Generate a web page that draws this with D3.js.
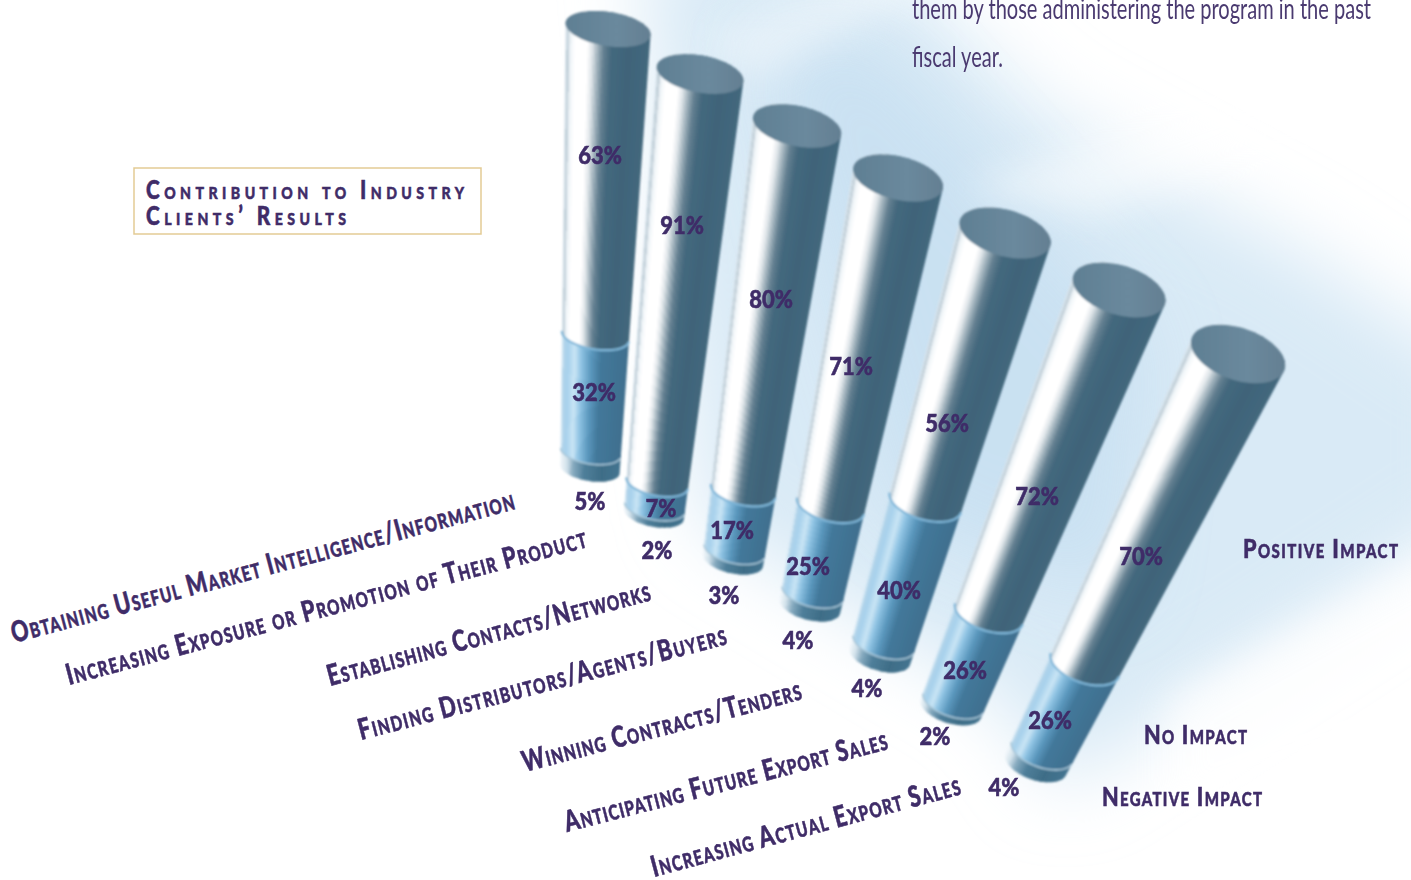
<!DOCTYPE html>
<html><head><meta charset="utf-8">
<script src="https://cdnjs.cloudflare.com/ajax/libs/d3/7.8.5/d3.min.js"></script>
<style>html,body{margin:0;padding:0;background:#fff;overflow:hidden}svg{display:block}
text{font-family:Lato,"Open Sans",sans-serif;fill:#3f2c68}
text.heavy{stroke:#3f2c68;stroke-width:.55px}</style>
</head><body><svg id="c" width="1411" height="880"></svg>
<script>
// ---------- data ----------
const categories=["Obtaining Useful Market Intelligence/Information","Increasing Exposure or Promotion of Their Product","Establishing Contacts/Networks","Finding Distributors/Agents/Buyers","Winning Contracts/Tenders","Anticipating Future Export Sales","Increasing Actual Export Sales"];
const positiveImpact=[63,91,80,71,56,72,70];
const noImpact=[32,7,17,25,40,26,26];
const negativeImpact=[5,2,3,4,4,2,4];
const seriesNames=["Positive Impact","No Impact","Negative Impact"];
const titleLines=["Contribution to Industry","Clients\u2019 Results"];
const bodyLines=["them by those administering the program in the past","fiscal year."];

// ---------- layout (perspective frame; not data) ----------
const idx=d3.range(categories.length);
const topXs=[608,700,797,898,1005,1119,1238], topYs=[29,74,126,178,233,290,354];
const endXs=[590,654,733,810,880,951,1036], endYs=[469,514,560,606,656,708,764];
const topX=d3.scaleLinear(idx,topXs), topY=d3.scaleLinear(idx,topYs),
      endX=d3.scaleLinear(idx,endXs), endY=d3.scaleLinear(idx,endYs);
const radiusTop=d3.scaleLinear([0,6],[43,49]), radiusEnd=d3.scaleLinear([0,6],[30,32]),
      minorTop=d3.scaleLinear([0,6],[17,26]), minorEnd=d3.scaleLinear([0,6],[12,16]),
      tilt=d3.scaleLinear([0,6],[9,19]);
// percent of the cylinder -> fraction along its foreshortened axis
const along=d3.scalePow().exponent(0.78).domain([0,100]).range([0,1]);

const posLabelX=[600,682,771,851,947,1037,1141], posLabelY=[155,225,299,366,423,496,556];
const noLabelX=[594,661,732,808,899,965,1050], noLabelY=[392,508,530,566,590,670,720];
const negLabelX=[590,657,724,798,867,935,1004], negLabelY=[501,550,595,640,688,736,787];
const catStart=[[14,643],[69,685],[330,686],[361,740],[525,772],[567,832],[654,877]];
const catEnd=[[516,509],[588,547],[652,600],[728,644],[803,699],[889,749],[962,794]];

// colour profiles across the cylinder's width
const posProfile=d3.scaleLinear([0,.03,.06,.12,.26,.32,.39,.46,.55,.75,1],["#e4eef5","#b9c9d3","#eef4f8","#ffffff","#ffffff","#dfe5e9","#9db0ba","#637f90","#44687e","#3f6479","#43677d"]);
const noProfile=d3.scaleLinear([0,.04,.1,.2,.3,.45,.6,1],["#d8e9f5","#aed2e9","#a8d2ec","#c9e5f5","#8fc3e3","#5a97bd","#43789a","#3f6f8e"]);
const negProfile=d3.scaleLinear([0,.1,.22,.4,.7,1],["#f1f7fa","#d4e3ec","#86aabf","#4f7f9a","#3e6d87","#447490"]);

const svg=d3.select("#c");
const defs=svg.append("defs");
defs.append("filter").attr("id","soft").attr("x","-5%").attr("y","-5%").attr("width","110%").attr("height","110%")
  .append("feGaussianBlur").attr("stdDeviation",0.8);
const wb=defs.append("filter").attr("id","wash").attr("filterUnits","userSpaceOnUse").attr("x",0).attr("y",-200).attr("width",1700).attr("height",1300);
wb.append("feGaussianBlur").attr("stdDeviation",38);
const wb2=defs.append("filter").attr("id","wash2").attr("filterUnits","userSpaceOnUse").attr("x",0).attr("y",-200).attr("width",1700).attr("height",1300);
wb2.append("feGaussianBlur").attr("stdDeviation",18);
const capGrad=defs.append("linearGradient").attr("id","cap").attr("x1",0).attr("x2",1).attr("y1",0).attr("y2",0);
capGrad.append("stop").attr("offset",0).attr("stop-color","#5f7f93");
capGrad.append("stop").attr("offset",.6).attr("stop-color","#6a899d");
capGrad.append("stop").attr("offset",1).attr("stop-color","#647f92");

// ---------- background wash ----------
const wash=svg.append("g");
const poly=d3.line();
wash.append("path").attr("d",poly([[640,-60],[860,-60],[1040,110],[1300,250],[1480,370],[1480,520],[1060,790],[1000,700],[700,520]])+"Z").attr("fill","#d9eaf6").attr("filter","url(#wash)");
wash.append("path").attr("d",poly([[760,40],[880,40],[1150,340],[1120,600],[900,520]])+"Z").attr("fill","#c6dff1").attr("opacity",.8).attr("filter","url(#wash)");
wash.append("path").attr("d",poly([[700,40],[900,-40],[900,0],[760,80]])+"Z").attr("fill","#ffffff").attr("opacity",.4).attr("filter","url(#wash2)");
wash.append("path").attr("d",poly([[960,190],[1230,90],[1420,90],[1100,215]])+"Z").attr("fill","#ffffff").attr("opacity",.5).attr("filter","url(#wash2)");
wash.append("path").attr("d",poly([[1170,700],[1480,530],[1480,720],[1170,820]])+"Z").attr("fill","#ffffff").attr("opacity",.7).attr("filter","url(#wash2)");

// ---------- cylinders ----------
function centre(i,f){return [topX(i)+(endX(i)-topX(i))*f, topY(i)+(endY(i)-topY(i))*f];}
function radii(i,f){return [radiusTop(i)+(radiusEnd(i)-radiusTop(i))*f, minorTop(i)+(minorEnd(i)-minorTop(i))*f];}
function ellipse(i,f,t0=0,t1=2*Math.PI,n=72){
  const [cx,cy]=centre(i,f),[a,b]=radii(i,f),r=tilt(i)*Math.PI/180;
  return d3.range(n+1).map(k=>{const t=t0+(t1-t0)*k/n,x=a*Math.cos(t),y=b*Math.sin(t);
    return [cx+x*Math.cos(r)-y*Math.sin(r),cy+x*Math.sin(r)+y*Math.cos(r)];});
}
function acrossPoint(i,f,u){
  const [cx,cy]=centre(i,f),[a]=radii(i,f),r=tilt(i)*Math.PI/180,s=(2*u-1)*a;
  return [cx+s*Math.cos(r),cy+s*Math.sin(r)];
}
const line=d3.line();
function segment(g,i,key,f0,f1,profile){
  const hull=d3.polygonHull(ellipse(i,f0).concat(ellipse(i,f1)));
  const id=`clip-${i}-${key}`;
  defs.append("clipPath").attr("id",id).append("path").attr("d",line(hull)+"Z");
  const s=g.append("g").attr("clip-path",`url(#${id})`);
  const N=64, lo=f0-.12, hi=f1+.12;
  d3.range(N).forEach(k=>{
    const u0=k/N-(k==0?.04:0),u1=(k==N-1)?1.04:(k+1.5)/N,uc=(k+.5)/N;
    s.append("path").attr("d",line([acrossPoint(i,lo,u0),acrossPoint(i,lo,u1),acrossPoint(i,hi,u1),acrossPoint(i,hi,u0)])+"Z")
      .attr("fill",profile(uc)).attr("shape-rendering","crispEdges");
  });
}
const plot=svg.append("g").attr("filter","url(#soft)");
idx.forEach(i=>{
  const g=plot.append("g").attr("class","cylinder");
  const fa=along(positiveImpact[i]), fb=along(positiveImpact[i]+noImpact[i]),
        fc=along(positiveImpact[i]+noImpact[i]+negativeImpact[i]);
  segment(g,i,"neg",fb,fc,negProfile);
  segment(g,i,"no",fa,fb,noProfile);
  segment(g,i,"pos",0,fa,posProfile);
  g.append("path").attr("d",line(ellipse(i,fb,.15,Math.PI-.1))).attr("fill","none").attr("stroke","#a7c6d8").attr("stroke-width",1.6);
  g.append("path").attr("d",line(ellipse(i,fa,.02,Math.PI-.02))).attr("fill","none").attr("stroke","#7fb6d8").attr("stroke-width",2.2);
  g.append("path").attr("d",line(ellipse(i,0))+"Z").attr("fill","url(#cap)");
});

// ---------- text ----------
const condense=.88;
function valueLabels(vals,xs,ys){
  svg.append("g").selectAll("text").data(vals).join("text").attr("class","heavy")
    .attr("transform",(d,i)=>`translate(${xs[i]},${ys[i]+8.5}) scale(${condense},1)`)
    .attr("text-anchor","middle").attr("font-size",25).attr("font-weight",900).text(d=>d+"%");
}
valueLabels(positiveImpact,posLabelX,posLabelY);
valueLabels(noImpact,noLabelX,noLabelY);
valueLabels(negativeImpact,negLabelX,negLabelY);

// category labels, set along the receding baseline
const catSquash=.74;
svg.append("g").selectAll("text").data(categories).join("text").attr("class","heavy")
  .attr("transform",(d,i)=>`translate(${catStart[i]}) rotate(${Math.atan2(catEnd[i][1]-catStart[i][1],catEnd[i][0]-catStart[i][0])*180/Math.PI}) scale(${catSquash},1)`)
  .attr("font-size",29).attr("font-weight",900).style("font-variant","small-caps")
  .attr("textLength",(d,i)=>Math.hypot(catEnd[i][0]-catStart[i][0],catEnd[i][1]-catStart[i][1])/catSquash)
  .attr("lengthAdjust","spacing").text(d=>d);

// series names
const legendX=[1243,1144,1102], legendY=[558,744,806], legendW=[155,103,160], legendSquash=.8;
svg.append("g").selectAll("text").data(seriesNames).join("text").attr("class","heavy")
  .attr("transform",(d,i)=>`translate(${legendX[i]},${legendY[i]}) scale(${legendSquash},1)`)
  .attr("font-size",27).attr("font-weight",900).style("font-variant","small-caps")
  .attr("textLength",(d,i)=>legendW[i]/legendSquash).attr("lengthAdjust","spacing").text(d=>d);

// title box
svg.append("rect").attr("x",134).attr("y",168).attr("width",347).attr("height",66)
  .attr("fill","#fff").attr("stroke","#e3cb95").attr("stroke-width",1.5);
const titleY=[199,225], titleW=[318,200], titleSquash=.8;
svg.append("g").selectAll("text").data(titleLines).join("text").attr("class","heavy")
  .attr("transform",(d,i)=>`translate(146,${titleY[i]}) scale(${titleSquash},1)`)
  .attr("font-size",26).attr("font-weight",900).style("font-variant","small-caps")
  .attr("textLength",(d,i)=>titleW[i]/titleSquash).attr("lengthAdjust","spacing").text(d=>d);

// body copy
const bodyY=[19,67], bodyW=[459,91];
svg.append("g").selectAll("text").data(bodyLines).join("text")
  .attr("x",912).attr("y",(d,i)=>bodyY[i]).attr("font-size",28).attr("font-weight",400)
  .attr("textLength",(d,i)=>bodyW[i]).attr("lengthAdjust","spacingAndGlyphs").style("fill","#4a3a70").text(d=>d);
</script></body></html>
